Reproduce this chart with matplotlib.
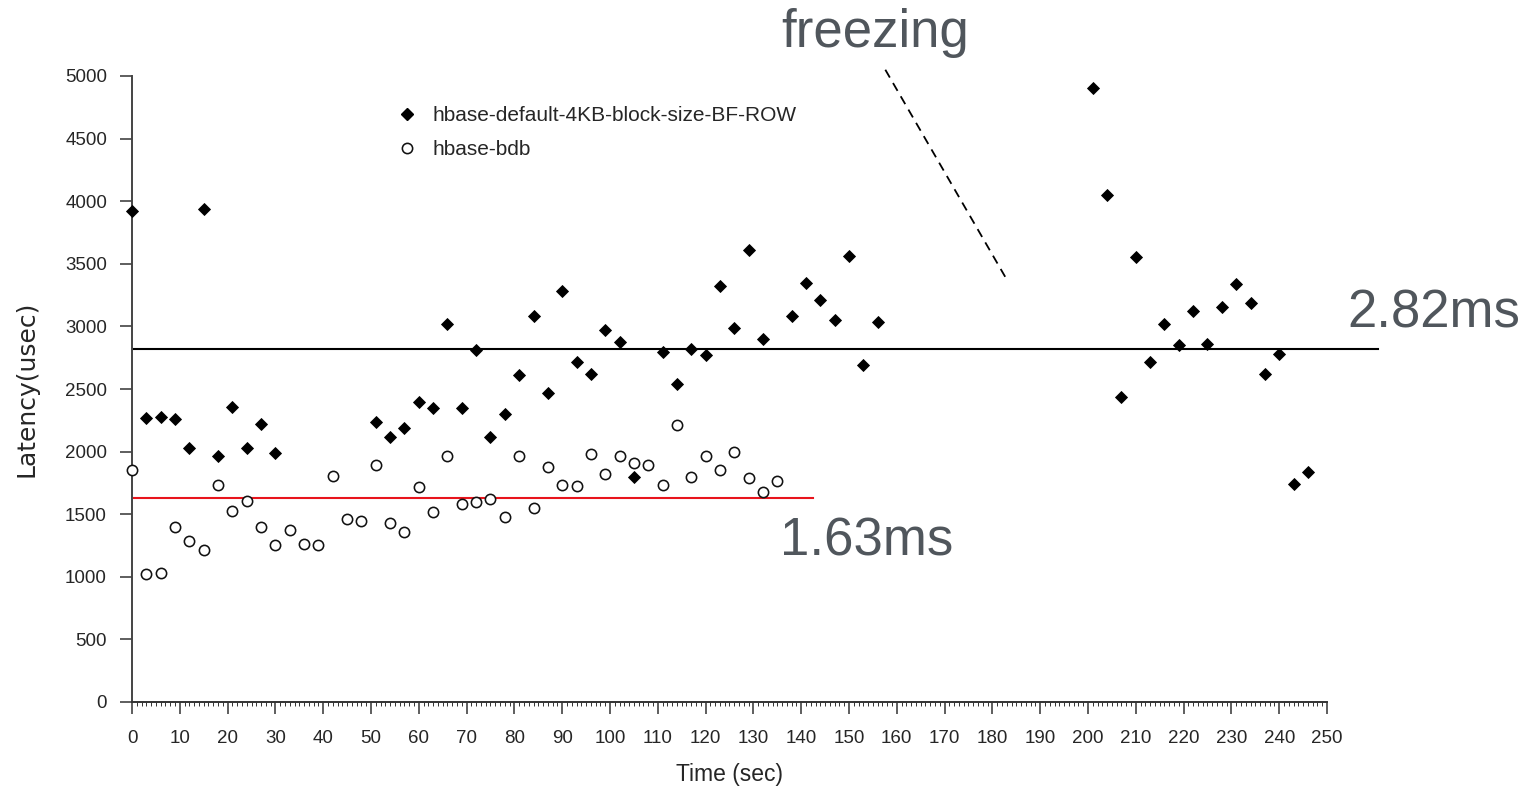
import matplotlib
matplotlib.use("Agg")
import matplotlib.pyplot as plt
from matplotlib.ticker import MultipleLocator
from matplotlib.lines import Line2D

# HBase default (4KB blocks, row bloom filter) latency samples, one every 3 s
default_time = [0, 3, 6, 9, 12, 15, 18, 21, 24, 27, 30,
                51, 54, 57, 60, 63, 66, 69, 72, 75, 78, 81, 84, 87, 90,
                93, 96, 99, 102, 105, 111, 114, 117, 120, 123, 126, 129,
                132, 138, 141, 144, 147, 150, 153, 156,
                201, 204, 207, 210, 213, 216, 219, 222, 225, 228, 231,
                234, 237, 240, 243, 246]
default_latency = [3920, 2270, 2275, 2260, 2030, 3940, 1965, 2360, 2030, 2220, 1985,
                   2240, 2115, 2185, 2400, 2347, 3020, 2351, 2812, 2119, 2300, 2612,
                   3086, 2465, 3285, 2716, 2620, 2971, 2875, 1800, 2792, 2543, 2818,
                   2772, 3323, 2985, 3608, 2898, 3080, 3348, 3211, 3054, 3565, 2692,
                   3038,
                   4902, 4049, 2439, 3552, 2718, 3017, 2851, 3126, 2859, 3152, 3336,
                   3190, 2620, 2780, 1741, 1835]

# HBase on BDB latency samples
bdb_time = list(range(0, 136, 3))
bdb_latency = [1853, 1025, 1030, 1400, 1286, 1214, 1733, 1525, 1608, 1395, 1254,
               1371, 1262, 1252, 1808, 1462, 1446, 1893, 1430, 1355, 1716, 1519,
               1966, 1580, 1595, 1622, 1480, 1967, 1550, 1880, 1733, 1728, 1981,
               1818, 1967, 1912, 1893, 1733, 2212, 1800, 1965, 1853, 1999, 1792,
               1675, 1768]

series_labels = ["hbase-default-4KB-block-size-BF-ROW", "hbase-bdb"]

# Average latency lines (usec) and their extents (sec)
default_mean = 2820
default_mean_span = (0.5, 260.7)
bdb_mean = 1630
bdb_mean_span = (0.5, 142.5)

# Gap in the default series
freeze_line_x = (157.6, 183.3)
freeze_line_y = (5050, 3355)

x_ticks = list(range(0, 251, 10))
y_ticks = list(range(0, 5001, 500))

sans = ["Liberation Sans", "DejaVu Sans"]
note_color = "#50565c"
ink = "#262626"

fig = plt.figure(figsize=(15.37, 7.90), dpi=100)
ax = fig.add_axes([132 / 1537, 1 - 702 / 790, 1195 / 1537, 626 / 790])

ax.plot(default_time, default_latency, linestyle="none", marker="D",
        markersize=6.4, color="black", markeredgewidth=0.6, clip_on=False, zorder=4)
ax.plot(bdb_time, bdb_latency, linestyle="none", marker="o",
        markersize=7.4, markerfacecolor="white", markeredgecolor="#111111",
        markeredgewidth=1.15, clip_on=False, zorder=3)

ax.plot(default_mean_span, [default_mean, default_mean], color="black",
        linewidth=1.5, clip_on=False, zorder=2)
ax.plot(bdb_mean_span, [bdb_mean, bdb_mean], color="#e8141c",
        linewidth=1.5, clip_on=False, zorder=2)
ax.plot(freeze_line_x, freeze_line_y, color="black", linewidth=1.3,
        linestyle=(0, (5, 3.5)), clip_on=False, zorder=2)

ax.text(155.4, 5232, "freezing", ha="center", va="baseline", fontsize=38,
        family=sans, color=note_color)
ax.text(254.2, 2995, "2.82ms", ha="left", va="baseline", fontsize=38,
        family=sans, color=note_color)
ax.text(135.6, 1174, "1.63ms", ha="left", va="baseline", fontsize=38,
        family=sans, color=note_color)

ax.set_xlim(0, 250)
ax.set_ylim(0, 5000)
ax.set_xticks(x_ticks)
ax.set_yticks(y_ticks)
ax.xaxis.set_minor_locator(MultipleLocator(1))

for side in ("top", "right"):
    ax.spines[side].set_visible(False)
ax.spines["left"].set_color("#444444")
ax.spines["left"].set_linewidth(1.4)
ax.spines["bottom"].set_color("#333333")
ax.spines["bottom"].set_linewidth(1.4)

ax.tick_params(axis="both", which="major", direction="out", length=8.5,
               width=1.1, color="#333333", labelsize=13.5, labelcolor=ink)
ax.tick_params(axis="x", which="minor", direction="out", length=3,
               width=0.7, color="#333333")
ax.tick_params(axis="x", which="major", pad=12)
ax.tick_params(axis="y", which="major", pad=9.5)
for lab in ax.get_xticklabels() + ax.get_yticklabels():
    lab.set_family(sans)

ax.set_xlabel("Time (sec)", family=sans, fontsize=16.5, color=ink, labelpad=11)
ax.set_ylabel("Latency(usec)", family="DejaVu Sans", fontsize=18, color=ink,
              labelpad=19)

handles = [
    Line2D([], [], linestyle="none", marker="D", markersize=6.4, color="black"),
    Line2D([], [], linestyle="none", marker="o", markersize=7.4,
           markerfacecolor="white", markeredgecolor="#111111", markeredgewidth=1.15),
]
ax.legend(handles, series_labels, loc="upper left", bbox_to_anchor=(0.2053, 0.982),
          frameon=False, prop={"family": sans, "size": 15},
          handlelength=1.0, handletextpad=0.75, labelspacing=0.72,
          labelcolor=ink)

fig.savefig("out.png", dpi=100)
